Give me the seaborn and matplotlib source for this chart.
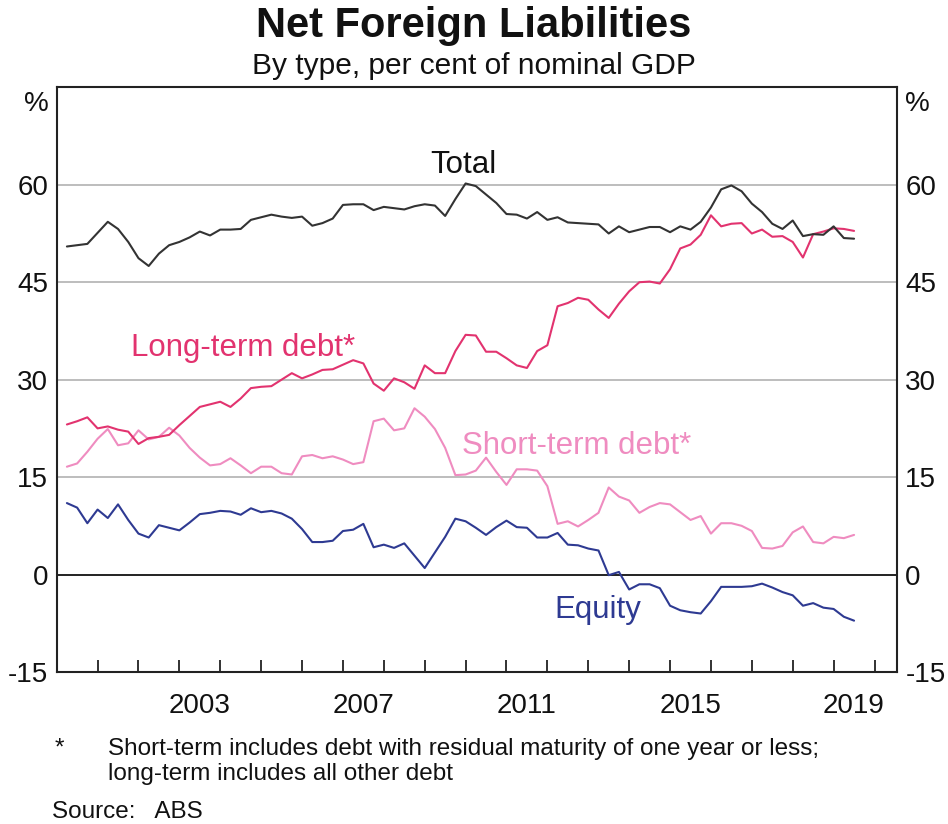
import numpy as np
import pandas as pd
import matplotlib
matplotlib.use("Agg")
import matplotlib.pyplot as plt
import seaborn as sns

# ---- data (quarterly, per cent of nominal GDP) ----
start_year = 2000.25
total = [50.5, 50.7, 50.9, 52.6, 54.3, 53.2, 51.2, 48.7, 47.5, 49.4,
         50.7, 51.2, 51.9, 52.8, 52.2, 53.1, 53.1, 53.2, 54.6, 55.0,
         55.4, 55.1, 54.9, 55.1, 53.7, 54.1, 54.8, 56.9, 57.0, 57.0,
         56.1, 56.6, 56.4, 56.2, 56.7, 57.0, 56.8, 55.2, 57.8, 60.2,
         59.8, 58.5, 57.2, 55.5, 55.4, 54.8, 55.8, 54.6, 55.0, 54.2,
         54.1, 54.0, 53.9, 52.5, 53.6, 52.7, 53.1, 53.5, 53.5, 52.7,
         53.6, 53.1, 54.3, 56.5, 59.3, 59.9, 59.0, 57.1, 55.8, 54.0,
         53.2, 54.5, 52.1, 52.4, 52.3, 53.6, 51.8, 51.7]
long_term = [23.1, 23.6, 24.2, 22.5, 22.8, 22.3, 22.0, 20.1, 21.0, 21.2,
             21.5, 23.0, 24.4, 25.8, 26.2, 26.6, 25.8, 27.1, 28.7, 28.9,
             29.0, 30.0, 31.0, 30.2, 30.8, 31.5, 31.6, 32.3, 33.0, 32.5,
             29.4, 28.3, 30.2, 29.6, 28.6, 32.2, 31.0, 31.0, 34.4, 36.9,
             36.8, 34.3, 34.3, 33.3, 32.2, 31.8, 34.4, 35.3, 41.3, 41.8,
             42.6, 42.3, 40.8, 39.5, 41.7, 43.6, 45.0, 45.1, 44.8, 47.0,
             50.2, 50.8, 52.3, 55.3, 53.6, 54.0, 54.1, 52.5, 53.1, 52.0,
             52.1, 51.2, 48.8, 52.4, 52.8, 53.3, 53.2, 52.9]
short_term = [16.6, 17.1, 18.9, 20.9, 22.4, 19.9, 20.2, 22.2, 20.8, 21.2,
              22.6, 21.4, 19.5, 18.0, 16.8, 17.0, 17.9, 16.8, 15.6, 16.6,
              16.6, 15.6, 15.4, 18.2, 18.4, 17.9, 18.2, 17.7, 17.0, 17.3,
              23.6, 24.0, 22.2, 22.5, 25.6, 24.3, 22.4, 19.5, 15.3, 15.4,
              16.0, 18.0, 15.8, 13.8, 16.2, 16.2, 16.0, 13.6, 7.8, 8.2,
              7.4, 8.4, 9.5, 13.4, 12.0, 11.4, 9.5, 10.4, 11.0, 10.8,
              9.6, 8.4, 9.0, 6.3, 7.9, 7.9, 7.5, 6.7, 4.1, 4.0,
              4.4, 6.5, 7.4, 5.0, 4.8, 5.8, 5.6, 6.1]
equity = [11.0, 10.3, 7.9, 10.0, 8.7, 10.8, 8.4, 6.3, 5.7, 7.6,
          7.2, 6.8, 8.0, 9.3, 9.5, 9.8, 9.7, 9.2, 10.2, 9.6,
          9.8, 9.4, 8.6, 7.0, 5.0, 5.0, 5.2, 6.7, 6.9, 7.8,
          4.2, 4.6, 4.1, 4.8, 2.9, 1.0, 3.4, 5.8, 8.6, 8.2,
          7.2, 6.1, 7.3, 8.3, 7.3, 7.2, 5.7, 5.7, 6.4, 4.6,
          4.5, 4.0, 3.7, -0.1, 0.4, -2.3, -1.5, -1.5, -2.1, -4.8,
          -5.5, -5.8, -6.0, -4.1, -1.9, -1.9, -1.9, -1.8, -1.4, -2.0,
          -2.7, -3.2, -4.8, -4.4, -5.1, -5.3, -6.5, -7.1]

series_names = ["Total", "Long-term debt*", "Short-term debt*", "Equity"]
series_colors = ["#333333", "#e2336f", "#ef8cc0", "#2e3a92"]
y_ticks = [-15, 0, 15, 30, 45, 60]
x_label_years = [2003, 2007, 2011, 2015, 2019]

n = len(total)
dates = start_year + 0.25 * np.arange(n)
df = pd.concat([
    pd.DataFrame({"date": dates, "value": vals, "series": name})
    for name, vals in zip(series_names, [total, long_term, short_term, equity])
], ignore_index=True)

# ---- figure ----
sns.set_theme(style="white")
plt.rcParams["font.family"] = ["Liberation Sans", "DejaVu Sans"]

fig = plt.figure(figsize=(9.48, 8.24), dpi=100)
ax = fig.add_axes([0.0598, 0.1845, 0.8864, 0.7095])

palette = dict(zip(series_names, series_colors))
sns.lineplot(data=df, x="date", y="value", hue="series", palette=palette,
             hue_order=series_names[::-1], linewidth=1.5, legend=False, ax=ax)

ax.set_xlim(2000.0, 2020.55)
ax.set_ylim(-15, 75)

# grid
for yv in [15, 30, 45, 60]:
    ax.axhline(yv, color="#bdbdbd", linewidth=1.4, zorder=0)
ax.axhline(0, color="#222222", linewidth=1.4, zorder=1)

for s in ax.spines.values():
    s.set_color("#222222")
    s.set_linewidth(1.5)
    s.set_visible(True)

# x ticks: year boundaries, labels centred mid-year
ax.set_xticks(np.arange(2001, 2021))
ax.set_xticklabels([])
ax.set_xticks([y + 0.5 for y in x_label_years], minor=True)
ax.set_xticklabels([str(y) for y in x_label_years], minor=True)
ax.tick_params(axis="x", which="major", direction="in", length=9, width=1.3,
               color="#222222", bottom=True, top=False)
ax.tick_params(axis="x", which="minor", length=0, labelsize=20, pad=15,
               labelcolor="#111111")

# y ticks both sides
ax.set_yticks(y_ticks)
ax.set_yticklabels([str(v) for v in y_ticks])
ax.tick_params(axis="y", which="major", length=0, labelsize=20, pad=6,
               labelcolor="#111111", left=True, right=True,
               labelleft=True, labelright=True)
ax.set_xlabel("")
ax.set_ylabel("")

# % units
fig.text(0.0598 - 0.008, 0.894 - 0.005, "%", ha="right", va="top", fontsize=20,
         color="#111111")
fig.text(0.9462 + 0.008, 0.894 - 0.005, "%", ha="left", va="top", fontsize=20,
         color="#111111")

# series labels
lab_fs = 22.5
ax.text(2009.95, 63.1, "Total", color="#111111", fontsize=lab_fs, ha="center", va="center")
ax.text(2004.55, 34.8, "Long-term debt*", color=series_colors[1], fontsize=lab_fs,
        ha="center", va="center")
ax.text(2012.72, 19.8, "Short-term debt*", color=series_colors[2], fontsize=lab_fs,
        ha="center", va="center")
ax.text(2013.23, -5.5, "Equity", color=series_colors[3], fontsize=lab_fs,
        ha="center", va="center")

# titles
fig.text(0.5, 0.993, "Net Foreign Liabilities", ha="center", va="top",
         fontsize=30, fontweight="bold", color="#111111")
fig.text(0.5, 0.937, "By type, per cent of nominal GDP", ha="center", va="top",
         fontsize=21.5, color="#111111")

# footnotes
fig.text(0.058, 0.092, "*", ha="left", va="center", fontsize=17.5, color="#111111")
fig.text(0.114, 0.091, "Short-term includes debt with residual maturity of one year or less;",
         ha="left", va="center", fontsize=17.5, color="#111111")
fig.text(0.114, 0.061, "long-term includes all other debt",
         ha="left", va="center", fontsize=17.5, color="#111111")
fig.text(0.055, 0.014, "Source:   ABS", ha="left", va="center", fontsize=17.5,
         color="#111111")

fig.savefig("out.png", dpi=100)
